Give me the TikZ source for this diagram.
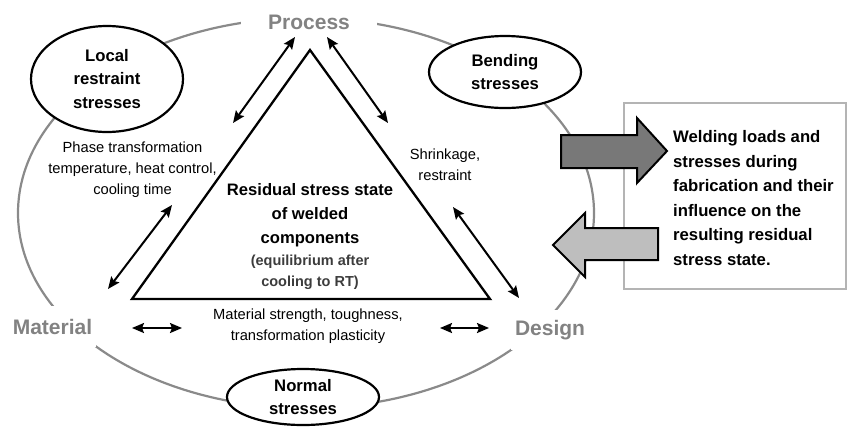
\documentclass[tikz,border=0pt]{standalone}
\usepackage{fontspec}
\setmainfont{Liberation Sans}
\usetikzlibrary{arrows.meta,shapes.geometric}
\definecolor{cycgray}{RGB}{138,138,138}
\definecolor{labgray}{RGB}{130,130,130}
\definecolor{subgray}{RGB}{60,60,60}
\definecolor{boxgray}{RGB}{180,180,180}
\definecolor{darkfill}{RGB}{120,120,120}
\definecolor{lightfill}{RGB}{190,190,190}
\begin{document}
\begin{tikzpicture}[x=1pt,y=-1pt,
  cyc/.style={draw=cycgray,line width=2.2pt},
  corner/.style={text=labgray,fill=white,inner xsep=4pt,font=\bfseries\fontsize{21}{24}\selectfont},
  dbl/.style={line width=2pt,{Stealth[length=12pt,width=10pt,inset=2pt]}-{Stealth[length=12pt,width=10pt,inset=2pt]}},
  stressell/.style={ellipse,draw,line width=2.2pt,fill=white,inner sep=0pt,align=center,
    minimum width=152pt,font=\bfseries\fontsize{16.7}{23.5}\selectfont},
  note/.style={align=center,inner sep=0pt,font=\fontsize{14.7}{21}\selectfont},
  blockarrow/.style={draw=black,line width=2pt,line join=miter}
]
\useasboundingbox (0,0) rectangle (848,426);
% outer cycle
\draw[cyc] (306,213) ellipse [x radius=288pt, y radius=195pt];
% corner labels
\node[corner,inner xsep=27pt,inner ysep=3pt] (process) at (309,22) {Process};
\node[corner,inner ysep=13pt] (material) at (52.5,326.5) {Material};
\node[corner,inner ysep=10pt] (design) at (550,330) {Design};
% stress ellipses
\node[stressell,minimum height=106pt] (local) at (107,79) {Local\\restraint\\stresses};
\node[stressell,minimum height=72pt] (bending) at (505,72) {Bending\\stresses};
\node[stressell,minimum height=56pt] (normal) at (303,397) {Normal\\stresses};
% triangle
\coordinate (apex) at (310,50);
\coordinate (bl) at (132,299);
\coordinate (br) at (490,299);
\draw[line width=2.3pt,line join=miter] (apex) -- (bl) -- (br) -- cycle;
% double arrows
\coordinate (a1s) at (233,123); \coordinate (a1e) at (295,37);
\coordinate (a2s) at (327,37);  \coordinate (a2e) at (388,123);
\coordinate (a3s) at (172,205); \coordinate (a3e) at (108,289);
\coordinate (a4s) at (453,207); \coordinate (a4e) at (519,298);
\coordinate (a5s) at (132,328); \coordinate (a5e) at (182,328);
\coordinate (a6s) at (440,328); \coordinate (a6e) at (489,328);
\draw[dbl] (a1s) -- (a1e);
\draw[dbl] (a2s) -- (a2e);
\draw[dbl] (a3s) -- (a3e);
\draw[dbl] (a4s) -- (a4e);
\draw[dbl] (a5s) -- (a5e);
\draw[dbl] (a6s) -- (a6e);
% notes
\node[note] (phase) at (132.5,170) {Phase transformation\\temperature, heat control,\\cooling time};
\node[note] (shrink) at (445,165) {Shrinkage,\\restraint};
\node[note] (matstr) at (308,326.5) {Material strength, toughness,\\transformation plasticity};
\node[align=center,inner sep=0pt,font=\bfseries\fontsize{16.6}{24}\selectfont] (title) at (310,215)
  {Residual stress state\\of welded\\components};
\node[align=center,inner sep=0pt,text=subgray,font=\bfseries\fontsize{14.5}{21}\selectfont] (sub) at (310,272.5)
  {(equilibrium after\\cooling to RT)};
% right box
\draw[draw=boxgray,line width=2.5pt] (624,103) rectangle (846,289);
\node[anchor=west,align=left,inner sep=0pt,font=\bfseries\fontsize{16.7}{24.6}\selectfont] (boxtext) at (673,198)
  {Welding loads and\\stresses during\\fabrication and their\\influence on the\\resulting residual\\stress state.};
% block arrows
\draw[blockarrow,fill=darkfill] (561,135) -- (637,135) -- (637,118) -- (667,151) -- (637,183) -- (637,168) -- (561,168) -- cycle;
\draw[blockarrow,fill=lightfill] (658,228) -- (585,228) -- (585,213) -- (553,245) -- (585,277) -- (585,260) -- (658,260) -- cycle;
\end{tikzpicture}
\end{document}
